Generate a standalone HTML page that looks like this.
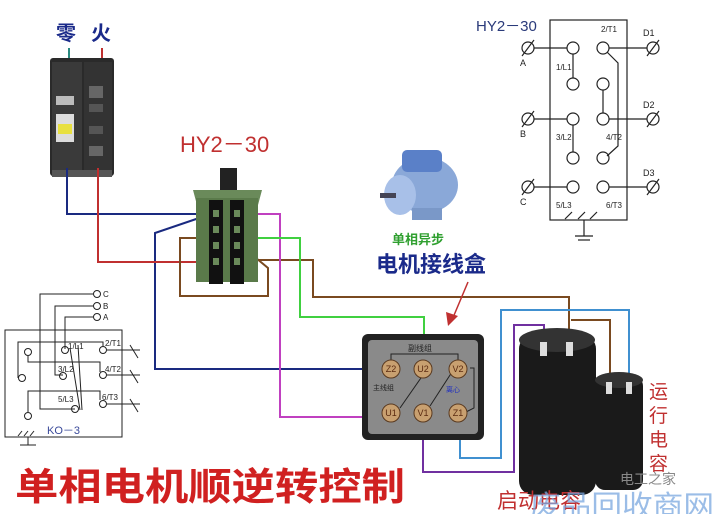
<!DOCTYPE html>
<html><head><meta charset="utf-8"><style>
html,body{margin:0;padding:0;background:#fff;width:714px;height:514px;overflow:hidden}
svg{display:block}
text{font-family:"Liberation Sans","Noto Sans CJK SC",sans-serif}
</style></head><body>
<svg width="714" height="514" viewBox="0 0 714 514" xmlns="http://www.w3.org/2000/svg">
<rect width="714" height="514" fill="#fff"/>

<text x="56" y="40" font-size="20" font-weight="bold" fill="#1a2a8a" font-family="Noto Sans CJK SC,sans-serif">零</text>
<text x="91" y="40" font-size="20" font-weight="bold" fill="#1a2a8a" font-family="Noto Sans CJK SC,sans-serif">火</text>
<line x1="69" y1="48" x2="69" y2="62" stroke="#2a8a80" stroke-width="2"/>
<line x1="102" y1="48" x2="102" y2="62" stroke="#c03030" stroke-width="2"/>

<rect x="50" y="58" width="64" height="118" rx="3" fill="#2a2a2a"/>
<rect x="52" y="62" width="30" height="110" fill="#3a3a3a"/>
<rect x="84" y="62" width="28" height="110" fill="#333"/>
<rect x="56" y="96" width="18" height="9" fill="#bbb"/>
<rect x="56" y="114" width="18" height="28" fill="#ddd"/>
<rect x="58" y="124" width="14" height="10" fill="#e8e040"/>
<rect x="89" y="86" width="14" height="12" fill="#666"/>
<rect x="89" y="104" width="14" height="8" fill="#555"/>
<rect x="89" y="126" width="14" height="8" fill="#555"/>
<rect x="89" y="146" width="14" height="10" fill="#666"/>
<rect x="52" y="170" width="60" height="7" fill="#555"/>

<polyline points="67,168 67,214 205,214" fill="none" stroke="#1a2a80" stroke-width="2"/>
<polyline points="205,216 155,233 155,369 383,369" fill="none" stroke="#1a2a80" stroke-width="2"/>
<polyline points="98,168 98,262 200,262" fill="none" stroke="#c03030" stroke-width="2"/>
<polyline points="200,238 180,238 180,296 268,296 268,268 256,258" fill="none" stroke="#7a4a20" stroke-width="2"/>
<polyline points="256,260 313,260 313,297 569,297 569,345" fill="none" stroke="#7a4a20" stroke-width="2"/>
<polyline points="256,214 280,214 280,417 388,417" fill="none" stroke="#c040c0" stroke-width="2"/>
<polyline points="256,238 300,238 300,317 424,317 424,372" fill="none" stroke="#40d040" stroke-width="2"/>
<polyline points="423,420 423,472 514,472 514,325 544,325 544,345" fill="none" stroke="#7030a0" stroke-width="2"/>
<polyline points="460,422 460,458 501,458 501,310 629,310 629,385" fill="none" stroke="#4090d0" stroke-width="2"/>
<polyline points="571,320 610,320 610,385" fill="none" stroke="#7a4a20" stroke-width="2"/>

<text x="180" y="152" font-size="22" fill="#c03030">HY2－30</text>

<rect x="220" y="168" width="17" height="24" fill="#222"/>
<polygon points="193,190 262,190 258,205 197,205" fill="#6a8a5a"/>
<rect x="196" y="198" width="62" height="84" fill="#5a7a4a"/>
<rect x="209" y="200" width="14" height="84" fill="#111"/>
<rect x="230" y="200" width="14" height="84" fill="#111"/>
<g fill="#6a8a5a">
<rect x="213" y="210" width="6" height="7"/><rect x="234" y="210" width="6" height="7"/>
<rect x="213" y="226" width="6" height="7"/><rect x="234" y="226" width="6" height="7"/>
<rect x="213" y="242" width="6" height="7"/><rect x="234" y="242" width="6" height="7"/>
<rect x="213" y="258" width="6" height="7"/><rect x="234" y="258" width="6" height="7"/>
</g>

<g>
<ellipse cx="425" cy="185" rx="33" ry="28" fill="#8aa8d8"/>
<rect x="402" y="150" width="40" height="22" rx="5" fill="#5a80c8"/>
<ellipse cx="400" cy="195" rx="16" ry="20" fill="#a8c0e8"/>
<rect x="380" y="193" width="16" height="5" fill="#445"/>
<rect x="412" y="208" width="30" height="12" fill="#7a98c8"/>
</g>
<text x="392" y="244" font-size="13" font-weight="bold" fill="#30a030" font-family="Noto Sans CJK SC,sans-serif">单相异步</text>
<text x="376" y="272" font-size="22" font-weight="bold" fill="#1a2a8a" font-family="Noto Sans CJK SC,sans-serif">电机接线盒</text>
<line x1="468" y1="282" x2="452" y2="320" stroke="#c03030" stroke-width="1.5"/>
<polygon points="448,326 446,312 458,316" fill="#c03030"/>

<rect x="362" y="334" width="122" height="106" rx="6" fill="#222"/>
<rect x="368" y="340" width="110" height="94" rx="4" fill="#8a8a8a"/>
<text x="408" y="351" font-size="8" fill="#222" font-family="Noto Sans CJK SC,sans-serif">副线组</text>
<polyline points="391,360 391,354 458,354 458,360" fill="none" stroke="#222" stroke-width="1"/>
<polyline points="470,368 474,368 474,408 466,412" fill="none" stroke="#222" stroke-width="1"/>
<line x1="423" y1="375" x2="400" y2="408" stroke="#222" stroke-width="1"/>
<line x1="452" y1="372" x2="430" y2="406" stroke="#222" stroke-width="1"/>
<text x="373" y="390" font-size="7" fill="#222" font-family="Noto Sans CJK SC,sans-serif">主线组</text>
<text x="446" y="392" font-size="7" fill="#2030c0" font-family="Noto Sans CJK SC,sans-serif">离心</text>
<g stroke="#5a3a20" stroke-width="1" fill="#c8a070">
<circle cx="391" cy="369" r="9"/><circle cx="423" cy="369" r="9"/><circle cx="458" cy="369" r="9"/>
<circle cx="391" cy="413" r="9"/><circle cx="423" cy="413" r="9"/><circle cx="458" cy="413" r="9"/>
</g>
<g font-size="9" fill="#5a2a10" text-anchor="middle">
<text x="391" y="372">Z2</text><text x="423" y="372">U2</text><text x="458" y="372">V2</text>
<text x="391" y="416">U1</text><text x="423" y="416">V1</text><text x="458" y="416">Z1</text>
</g>

<rect x="519" y="335" width="77" height="160" rx="14" fill="#1a1a1a"/>
<ellipse cx="557" cy="340" rx="38" ry="12" fill="#333"/>
<rect x="540" y="342" width="7" height="14" fill="#ddd"/>
<rect x="566" y="342" width="7" height="14" fill="#ddd"/>
<rect x="595" y="376" width="48" height="114" rx="10" fill="#1a1a1a"/>
<ellipse cx="619" cy="380" rx="24" ry="8" fill="#333"/>
<rect x="606" y="382" width="6" height="12" fill="#ddd"/>
<rect x="626" y="382" width="6" height="12" fill="#ddd"/>
<g font-size="19" fill="#c03030" font-family="Noto Sans CJK SC,sans-serif">
<text x="649" y="398">运</text><text x="649" y="422">行</text><text x="649" y="446">电</text><text x="649" y="470">容</text>
</g>
<text x="497" y="508" font-size="21" fill="#c03030" font-family="Noto Sans CJK SC,sans-serif">启动电容</text>
<text x="620" y="484" font-size="14" fill="#888" font-family="Noto Sans CJK SC,sans-serif">电工之家</text>
<text x="530" y="516" font-size="29" fill="#7aa8e0" opacity="0.75" textLength="184" lengthAdjust="spacingAndGlyphs" font-family="Noto Sans CJK SC,sans-serif">废品回收商网</text>

<text x="15" y="500" font-size="38" font-weight="bold" fill="#d02020" textLength="390" lengthAdjust="spacingAndGlyphs" font-family="Noto Sans CJK SC,sans-serif">单相电机顺逆转控制</text>

<text x="476" y="31" font-size="15" fill="#2a3a7a">HY2－30</text>
<rect x="550" y="20" width="77" height="200" fill="none" stroke="#222" stroke-width="1.2"/>
<g fill="#fff" stroke="#222" stroke-width="1.2">
<circle cx="573" cy="48" r="6"/><circle cx="603" cy="48" r="6"/>
<circle cx="573" cy="84" r="6"/><circle cx="603" cy="84" r="6"/>
<circle cx="573" cy="119" r="6"/><circle cx="603" cy="119" r="6"/>
<circle cx="573" cy="158" r="6"/><circle cx="603" cy="158" r="6"/>
<circle cx="573" cy="187" r="6"/><circle cx="603" cy="187" r="6"/>
<circle cx="528" cy="48" r="6"/><circle cx="528" cy="119" r="6"/><circle cx="528" cy="187" r="6"/>
<circle cx="653" cy="48" r="6"/><circle cx="653" cy="119" r="6"/><circle cx="653" cy="187" r="6"/>
</g>
<g stroke="#222" stroke-width="1.2" fill="none">
<line x1="534" y1="48" x2="567" y2="48"/><line x1="534" y1="119" x2="567" y2="119"/><line x1="534" y1="187" x2="567" y2="187"/>
<line x1="609" y1="48" x2="647" y2="48"/><line x1="609" y1="119" x2="647" y2="119"/><line x1="609" y1="187" x2="647" y2="187"/>
<line x1="573" y1="54" x2="573" y2="78"/><line x1="573" y1="125" x2="573" y2="152"/><line x1="603" y1="90" x2="603" y2="113"/>
<polyline points="607,52 618,63 618,146 607,156"/>
<line x1="522" y1="56" x2="534" y2="40"/><line x1="522" y1="127" x2="534" y2="111"/><line x1="522" y1="195" x2="534" y2="179"/>
<line x1="647" y1="56" x2="659" y2="40"/><line x1="647" y1="127" x2="659" y2="111"/><line x1="647" y1="195" x2="659" y2="179"/>
<line x1="584" y1="220" x2="584" y2="236"/><line x1="575" y1="236" x2="593" y2="236"/><line x1="578" y1="240" x2="590" y2="240"/>
<line x1="565" y1="219" x2="572" y2="212"/><line x1="578" y1="219" x2="585" y2="212"/><line x1="590" y1="219" x2="597" y2="212"/>
</g>
<g font-size="9" fill="#222">
<text x="520" y="66">A</text><text x="520" y="137">B</text><text x="520" y="205">C</text>
<text x="643" y="36">D1</text><text x="643" y="108">D2</text><text x="643" y="176">D3</text>
<text x="556" y="70" font-size="8">1/L1</text><text x="556" y="140" font-size="8">3/L2</text><text x="556" y="208" font-size="8">5/L3</text>
<text x="601" y="32" font-size="8">2/T1</text><text x="606" y="140" font-size="8">4/T2</text><text x="606" y="208" font-size="8">6/T3</text>
</g>

<g stroke="#222" stroke-width="1" fill="none">
<rect x="5" y="330" width="117" height="107"/>
<circle cx="97" cy="294" r="3.5"/><circle cx="97" cy="306" r="3.5"/><circle cx="97" cy="317" r="3.5"/>
<polyline points="93,294 40,294 40,409 75,409"/>
<polyline points="93,306 55,306 55,375 63,375"/>
<polyline points="93,317 65,317 65,349"/>
<circle cx="65" cy="350" r="3.5"/><circle cx="63" cy="376" r="3.5"/><circle cx="75" cy="409" r="3.5"/>
<circle cx="103" cy="350" r="3.5"/><circle cx="103" cy="375" r="3.5"/><circle cx="103" cy="404" r="3.5"/>
<circle cx="28" cy="352" r="3.5"/><circle cx="22" cy="378" r="3.5"/><circle cx="28" cy="416" r="3.5"/>
<polyline points="28,356 28,362 100,362 100,372"/>
<polyline points="18,378 18,342 103,342 103,346"/>
<polyline points="28,412 28,391 100,391 100,400"/>
<line x1="70" y1="348" x2="80" y2="410"/><line x1="78" y1="345" x2="82" y2="410"/>
<line x1="107" y1="350" x2="140" y2="350"/><line x1="107" y1="375" x2="140" y2="375"/><line x1="107" y1="404" x2="140" y2="404"/>
<line x1="130" y1="345" x2="138" y2="358"/><line x1="130" y1="370" x2="138" y2="383"/><line x1="130" y1="399" x2="138" y2="412"/>
<line x1="28" y1="437" x2="28" y2="445"/><line x1="20" y1="445" x2="36" y2="445"/>
<line x1="18" y1="436" x2="22" y2="431"/><line x1="24" y1="436" x2="28" y2="431"/><line x1="30" y1="436" x2="34" y2="431"/>
</g>
<g font-size="8" fill="#222">
<text x="103" y="297">C</text><text x="103" y="309">B</text><text x="103" y="320">A</text>
<text x="68" y="349">1/L1</text><text x="58" y="372">3/L2</text><text x="58" y="402">5/L3</text>
<text x="105" y="346">2/T1</text><text x="105" y="372">4/T2</text><text x="102" y="400">6/T3</text>
</g>
<text x="47" y="434" font-size="11" fill="#3a4a9a">KO－3</text>
</svg>
</body></html>
